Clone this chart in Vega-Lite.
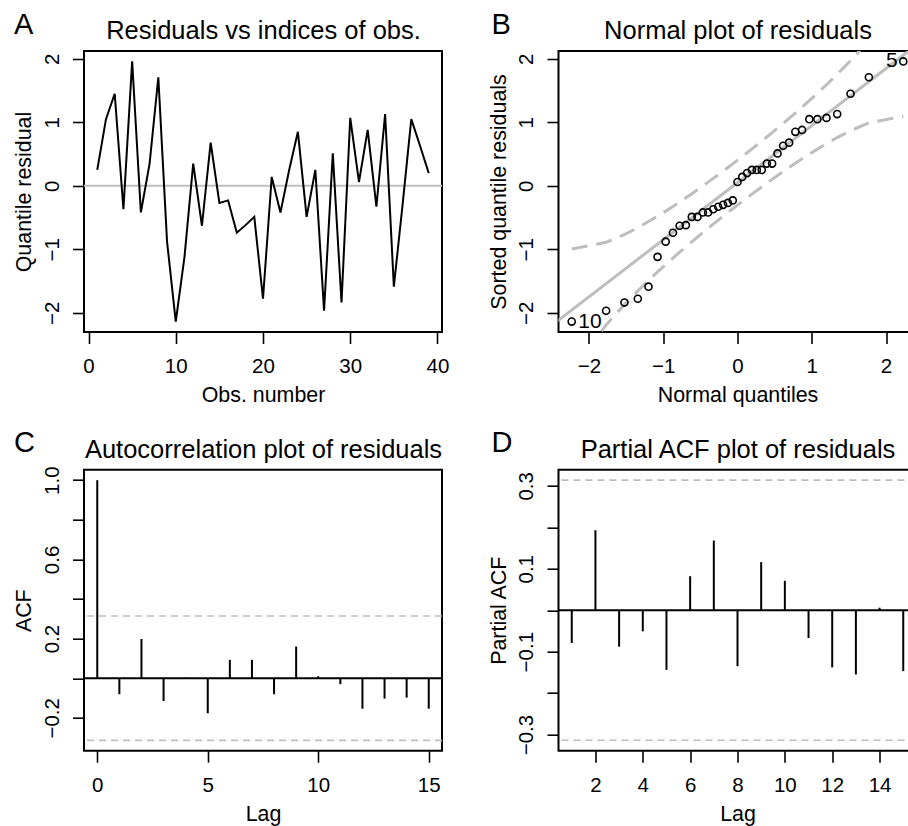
{
  "$schema": "https://vega.github.io/schema/vega-lite/v6.json",
  "autosize": {"type": "none"},
  "padding": {"left": 84, "top": 51, "right": 824, "bottom": 775},
  "background": "white",
  "columns": 2,
  "spacing": {"row": 137.7, "column": 116.5},
  "bounds": "flush",
  "config": {
    "font": "Liberation Sans",
    "view": {"stroke": "black", "strokeWidth": 2},
    "axis": {
      "domain": false, "grid": false, "ticks": true, "tickColor": "black", "tickWidth": 1.6, "tickSize": 11.5,
      "labelFont": "Liberation Sans", "labelFontSize": 20.5, "labelColor": "black",
      "titleFont": "Liberation Sans", "titleFontSize": 21.4, "titleFontWeight": "normal", "titleColor": "black",
      "labelFlush": false, "labelOverlap": false, "labelBound": false
    },
    "axisBottom": {"labelPadding": 12.8, "labelBaseline": "top", "labelAlign": "center", "titleY": 69.7, "titleBaseline": "alphabetic"},
    "axisLeft": {"labelAngle": -90, "labelAlign": "center", "labelBaseline": "alphabetic", "labelPadding": 14.2, "titleX": -53.5, "titleAngle": -90, "titleBaseline": "alphabetic"},
    "axisTop": {"ticks": false, "labels": false, "titleY": -12.7, "titleBaseline": "alphabetic", "titleFontSize": 25.5},
    "title": {"anchor": "start", "frame": "group", "fontSize": 29, "fontWeight": "normal", "color": "black", "baseline": "alphabetic", "offset": 0, "font": "Liberation Sans"}
  },
  "datasets": {
    "resid": [
      {"obs": 1, "resid": 0.25}, {"obs": 2, "resid": 1.05}, {"obs": 3, "resid": 1.45}, {"obs": 4, "resid": -0.37},
      {"obs": 5, "resid": 1.96}, {"obs": 6, "resid": -0.42}, {"obs": 7, "resid": 0.35}, {"obs": 8, "resid": 1.71},
      {"obs": 9, "resid": -0.88}, {"obs": 10, "resid": -2.14}, {"obs": 11, "resid": -1.12}, {"obs": 12, "resid": 0.35},
      {"obs": 13, "resid": -0.63}, {"obs": 14, "resid": 0.68}, {"obs": 15, "resid": -0.27}, {"obs": 16, "resid": -0.23},
      {"obs": 17, "resid": -0.74}, {"obs": 18, "resid": -0.62}, {"obs": 19, "resid": -0.49}, {"obs": 20, "resid": -1.78},
      {"obs": 21, "resid": 0.14}, {"obs": 22, "resid": -0.42}, {"obs": 23, "resid": 0.25}, {"obs": 24, "resid": 0.85},
      {"obs": 25, "resid": -0.49}, {"obs": 26, "resid": 0.25}, {"obs": 27, "resid": -1.97}, {"obs": 28, "resid": 0.51},
      {"obs": 29, "resid": -1.84}, {"obs": 30, "resid": 1.07}, {"obs": 31, "resid": 0.06}, {"obs": 32, "resid": 0.88},
      {"obs": 33, "resid": -0.33}, {"obs": 34, "resid": 1.13}, {"obs": 35, "resid": -1.59}, {"obs": 36, "resid": -0.30},
      {"obs": 37, "resid": 1.05}, {"obs": 38, "resid": 0.63}, {"obs": 39, "resid": 0.20}
    ],
    "qq": [
      {"z": -2.232, "r": -2.14, "upper": -0.997, "lower": -2.921},
      {"z": -1.769, "r": -1.97, "upper": -0.891, "lower": -2.193},
      {"z": -1.522, "r": -1.84, "upper": -0.768, "lower": -1.872},
      {"z": -1.342, "r": -1.78, "upper": -0.660, "lower": -1.656},
      {"z": -1.198, "r": -1.59, "upper": -0.564, "lower": -1.492},
      {"z": -1.076, "r": -1.12, "upper": -0.478, "lower": -1.358},
      {"z": -0.967, "r": -0.88, "upper": -0.399, "lower": -1.241},
      {"z": -0.869, "r": -0.74, "upper": -0.325, "lower": -1.139},
      {"z": -0.779, "r": -0.63, "upper": -0.255, "lower": -1.047},
      {"z": -0.695, "r": -0.62, "upper": -0.189, "lower": -0.963},
      {"z": -0.615, "r": -0.49, "upper": -0.124, "lower": -0.883},
      {"z": -0.539, "r": -0.49, "upper": -0.062, "lower": -0.808},
      {"z": -0.466, "r": -0.42, "upper": -0.001, "lower": -0.737},
      {"z": -0.396, "r": -0.42, "upper": 0.058, "lower": -0.670},
      {"z": -0.327, "r": -0.37, "upper": 0.117, "lower": -0.605},
      {"z": -0.260, "r": -0.33, "upper": 0.174, "lower": -0.542},
      {"z": -0.194, "r": -0.30, "upper": 0.231, "lower": -0.481},
      {"z": -0.129, "r": -0.27, "upper": 0.289, "lower": -0.421},
      {"z": -0.064, "r": -0.23, "upper": 0.346, "lower": -0.362},
      {"z": 0.0, "r": 0.06, "upper": 0.404, "lower": -0.304},
      {"z": 0.064, "r": 0.14, "upper": 0.462, "lower": -0.246},
      {"z": 0.129, "r": 0.20, "upper": 0.521, "lower": -0.189},
      {"z": 0.194, "r": 0.25, "upper": 0.581, "lower": -0.131},
      {"z": 0.260, "r": 0.25, "upper": 0.642, "lower": -0.074},
      {"z": 0.327, "r": 0.25, "upper": 0.705, "lower": -0.017},
      {"z": 0.396, "r": 0.35, "upper": 0.770, "lower": 0.042},
      {"z": 0.466, "r": 0.35, "upper": 0.837, "lower": 0.101},
      {"z": 0.539, "r": 0.51, "upper": 0.908, "lower": 0.162},
      {"z": 0.615, "r": 0.63, "upper": 0.983, "lower": 0.225},
      {"z": 0.695, "r": 0.68, "upper": 1.063, "lower": 0.289},
      {"z": 0.779, "r": 0.85, "upper": 1.147, "lower": 0.355},
      {"z": 0.869, "r": 0.88, "upper": 1.239, "lower": 0.425},
      {"z": 0.967, "r": 1.05, "upper": 1.341, "lower": 0.499},
      {"z": 1.076, "r": 1.05, "upper": 1.458, "lower": 0.578},
      {"z": 1.198, "r": 1.07, "upper": 1.592, "lower": 0.664},
      {"z": 1.342, "r": 1.13, "upper": 1.756, "lower": 0.760},
      {"z": 1.522, "r": 1.45, "upper": 1.972, "lower": 0.868},
      {"z": 1.769, "r": 1.71, "upper": 2.293, "lower": 0.991},
      {"z": 2.232, "r": 1.96, "upper": 3.021, "lower": 1.097}
    ],
    "acf": [
      {"lag": 0, "acf": 1.0}, {"lag": 1, "acf": -0.081}, {"lag": 2, "acf": 0.198}, {"lag": 3, "acf": -0.115},
      {"lag": 4, "acf": 0.003}, {"lag": 5, "acf": -0.177}, {"lag": 6, "acf": 0.093}, {"lag": 7, "acf": 0.093},
      {"lag": 8, "acf": -0.081}, {"lag": 9, "acf": 0.160}, {"lag": 10, "acf": 0.010}, {"lag": 11, "acf": -0.030},
      {"lag": 12, "acf": -0.154}, {"lag": 13, "acf": -0.103}, {"lag": 14, "acf": -0.098}, {"lag": 15, "acf": -0.154}
    ],
    "pacf": [
      {"lag": 1, "pacf": -0.079}, {"lag": 2, "pacf": 0.193}, {"lag": 3, "pacf": -0.088}, {"lag": 4, "pacf": -0.051},
      {"lag": 5, "pacf": -0.144}, {"lag": 6, "pacf": 0.082}, {"lag": 7, "pacf": 0.168}, {"lag": 8, "pacf": -0.135},
      {"lag": 9, "pacf": 0.116}, {"lag": 10, "pacf": 0.071}, {"lag": 11, "pacf": -0.067}, {"lag": 12, "pacf": -0.138},
      {"lag": 13, "pacf": -0.155}, {"lag": 14, "pacf": 0.006}, {"lag": 15, "pacf": -0.147}
    ],
    "clim": [{"c": 0.3139}, {"c": -0.3139}]
  },
  "concat": [
    {
      "width": 358, "height": 281,
      "title": {"text": "A", "dx": -70, "dy": 25.2},
      "resolve": {"axis": {"x": "independent"}},
      "layer": [
        {
          "data": {"values": [{"ref": 0}]},
          "mark": {"type": "rule", "color": "#bebebe", "strokeWidth": 2},
          "encoding": {"y": {"field": "ref", "type": "quantitative", "scale": {"domain": [-2.304, 2.124], "nice": false, "zero": false}}}
        },
        {
          "data": {"name": "resid"},
          "mark": {"type": "line", "color": "black", "strokeWidth": 2},
          "encoding": {
            "x": {"field": "obs", "type": "quantitative", "scale": {"domain": [-0.52, 40.52], "nice": false, "zero": false},
                  "axis": {"values": [0, 10, 20, 30, 40], "format": "d", "title": "Obs. number"}},
            "y": {"field": "resid", "type": "quantitative",
                  "axis": {"values": [-2, -1, 0, 1, 2], "format": "d", "title": "Quantile residual"}}
          }
        },
        {
          "data": {"name": "resid"},
          "mark": {"type": "line", "strokeOpacity": 0},
          "encoding": {
            "x": {"field": "obs", "type": "quantitative", "axis": {"orient": "top", "title": "Residuals vs indices of obs."}},
            "y": {"field": "resid", "type": "quantitative"}
          }
        }
      ]
    },
    {
      "width": 358, "height": 281,
      "title": {"text": "B", "dx": -67, "dy": 25.2},
      "resolve": {"axis": {"x": "independent"}},
      "layer": [
        {
          "data": {"name": "qq"},
          "mark": {"type": "line", "color": "#bebebe", "strokeWidth": 3, "strokeDash": [16, 9], "clip": true},
          "encoding": {
            "x": {"field": "z", "type": "quantitative", "scale": {"domain": [-2.41, 2.41], "nice": false, "zero": false},
                  "axis": {"values": [-2, -1, 0, 1, 2], "format": "d", "title": "Normal quantiles"}},
            "y": {"field": "upper", "type": "quantitative", "scale": {"domain": [-2.304, 2.124], "nice": false, "zero": false},
                  "axis": {"values": [-2, -1, 0, 1, 2], "format": "d", "title": "Sorted quantile residuals"}}
          }
        },
        {
          "data": {"name": "qq"},
          "mark": {"type": "line", "color": "#bebebe", "strokeWidth": 3, "strokeDash": [16, 9], "clip": true},
          "encoding": {
            "x": {"field": "z", "type": "quantitative", "axis": null},
            "y": {"field": "lower", "type": "quantitative"}
          }
        },
        {
          "data": {"values": [{"z": -2.6, "q": -2.29}, {"z": 2.6, "q": 2.39}]},
          "mark": {"type": "line", "color": "#bebebe", "strokeWidth": 3, "clip": true},
          "encoding": {
            "x": {"field": "z", "type": "quantitative", "axis": null},
            "y": {"field": "q", "type": "quantitative"}
          }
        },
        {
          "data": {"name": "qq"},
          "mark": {"type": "point", "shape": "circle", "filled": false, "color": "black", "size": 50, "strokeWidth": 1.6, "opacity": 1},
          "encoding": {
            "x": {"field": "z", "type": "quantitative", "axis": null},
            "y": {"field": "r", "type": "quantitative"}
          }
        },
        {
          "data": {"values": [{"z": -2.232, "r": -2.14, "lab": "10"}]},
          "mark": {"type": "text", "align": "left", "baseline": "middle", "dx": 6.5, "fontSize": 21, "color": "black"},
          "encoding": {
            "x": {"field": "z", "type": "quantitative", "axis": null},
            "y": {"field": "r", "type": "quantitative"},
            "text": {"field": "lab"}
          }
        },
        {
          "data": {"values": [{"z": 2.232, "r": 1.96, "lab": "5"}]},
          "mark": {"type": "text", "align": "right", "baseline": "middle", "dx": -5.5, "fontSize": 21, "color": "black"},
          "encoding": {
            "x": {"field": "z", "type": "quantitative", "axis": null},
            "y": {"field": "r", "type": "quantitative"},
            "text": {"field": "lab"}
          }
        },
        {
          "data": {"name": "qq"},
          "mark": {"type": "point", "opacity": 0},
          "encoding": {
            "x": {"field": "z", "type": "quantitative", "axis": {"orient": "top", "title": "Normal plot of residuals"}},
            "y": {"field": "r", "type": "quantitative"}
          }
        }
      ]
    },
    {
      "width": 358, "height": 281,
      "title": {"text": "C", "dx": -70, "dy": 25.2},
      "resolve": {"axis": {"x": "independent"}},
      "layer": [
        {
          "data": {"name": "clim"},
          "mark": {"type": "rule", "color": "#bebebe", "strokeWidth": 1.6, "strokeDash": [7, 5]},
          "encoding": {"y": {"field": "c", "type": "quantitative", "scale": {"domain": [-0.366, 1.053], "nice": false, "zero": false}}}
        },
        {
          "data": {"values": [{"ref": 0}]},
          "mark": {"type": "rule", "color": "black", "strokeWidth": 2},
          "encoding": {"y": {"field": "ref", "type": "quantitative"}}
        },
        {
          "data": {"name": "acf"},
          "mark": {"type": "rule", "color": "black", "strokeWidth": 2},
          "encoding": {
            "x": {"field": "lag", "type": "quantitative", "scale": {"domain": [-0.6, 15.6], "nice": false, "zero": false},
                  "axis": {"values": [0, 5, 10, 15], "format": "d", "title": "Lag"}},
            "y": {"field": "acf", "type": "quantitative",
                  "axis": {"values": [-0.2, 0, 0.2, 0.4, 0.6, 0.8, 1.0], "format": ".1f", "title": "ACF",
                           "labelExpr": "(round(datum.value*10)+2)%4==0 ? datum.label : ''"}},
            "y2": {"datum": 0}
          }
        },
        {
          "data": {"name": "acf"},
          "mark": {"type": "point", "opacity": 0},
          "encoding": {
            "x": {"field": "lag", "type": "quantitative", "axis": {"orient": "top", "title": "Autocorrelation plot of residuals"}},
            "y": {"field": "acf", "type": "quantitative"}
          }
        }
      ]
    },
    {
      "width": 358, "height": 281,
      "title": {"text": "D", "dx": -67, "dy": 25.2},
      "resolve": {"axis": {"x": "independent"}},
      "layer": [
        {
          "data": {"name": "clim"},
          "mark": {"type": "rule", "color": "#bebebe", "strokeWidth": 1.6, "strokeDash": [7, 5]},
          "encoding": {"y": {"field": "c", "type": "quantitative", "scale": {"domain": [-0.339, 0.339], "nice": false, "zero": false}}}
        },
        {
          "data": {"values": [{"ref": 0}]},
          "mark": {"type": "rule", "color": "black", "strokeWidth": 2},
          "encoding": {"y": {"field": "ref", "type": "quantitative"}}
        },
        {
          "data": {"name": "pacf"},
          "mark": {"type": "rule", "color": "black", "strokeWidth": 2},
          "encoding": {
            "x": {"field": "lag", "type": "quantitative", "scale": {"domain": [0.44, 15.56], "nice": false, "zero": false},
                  "axis": {"values": [2, 4, 6, 8, 10, 12, 14], "format": "d", "title": "Lag"}},
            "y": {"field": "pacf", "type": "quantitative",
                  "axis": {"values": [-0.3, -0.2, -0.1, 0, 0.1, 0.2, 0.3], "format": ".1f", "title": "Partial ACF",
                           "labelExpr": "abs(round(datum.value*10))%2==1 ? datum.label : ''"}},
            "y2": {"datum": 0}
          }
        },
        {
          "data": {"name": "pacf"},
          "mark": {"type": "point", "opacity": 0},
          "encoding": {
            "x": {"field": "lag", "type": "quantitative", "axis": {"orient": "top", "title": "Partial ACF plot of residuals"}},
            "y": {"field": "pacf", "type": "quantitative"}
          }
        }
      ]
    }
  ]
}
